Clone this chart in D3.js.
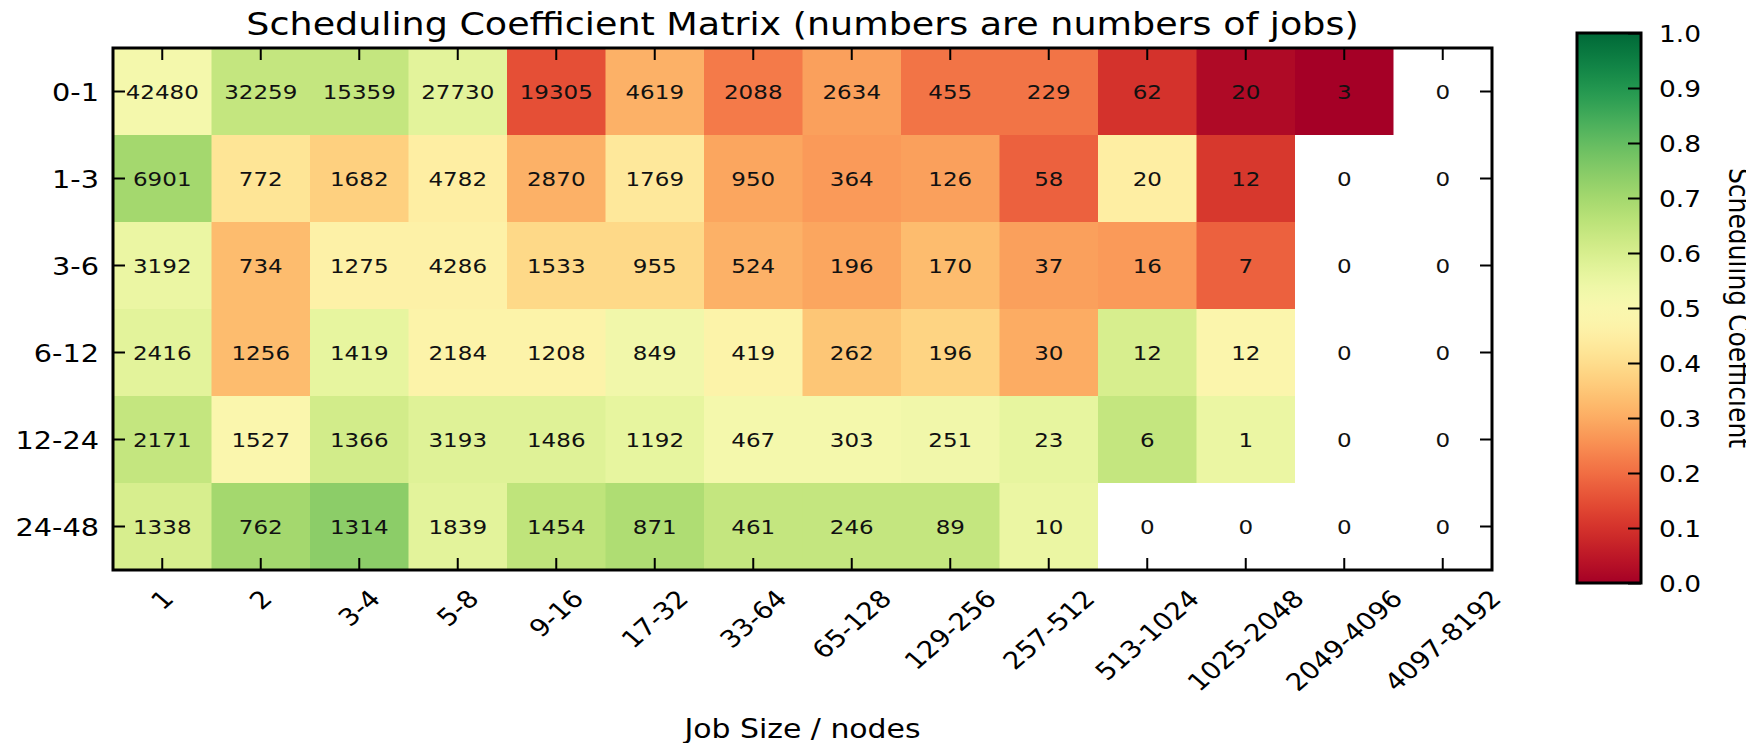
<!DOCTYPE html>
<html>
<head>
<meta charset="utf-8">
<script src="https://cdn.jsdelivr.net/npm/d3@7"></script>
<style>
  body { margin: 0; background: #fff; }
  svg { display: block; font-family: "DejaVu Sans", sans-serif; }
</style>
</head>
<body>
<svg id="chart" width="1758" height="743"></svg>
<script>
// Wait time bins (hours) and job size bins (nodes)
const rowLabels = ["0-1", "1-3", "3-6", "6-12", "12-24", "24-48"];
const colLabels = ["1", "2", "3-4", "5-8", "9-16", "17-32", "33-64", "65-128",
  "129-256", "257-512", "513-1024", "1025-2048", "2049-4096", "4097-8192"];

// numbers of jobs per cell
const jobCounts = [
  [42480, 32259, 15359, 27730, 19305, 4619, 2088, 2634, 455, 229, 62, 20, 3, 0],
  [6901, 772, 1682, 4782, 2870, 1769, 950, 364, 126, 58, 20, 12, 0, 0],
  [3192, 734, 1275, 4286, 1533, 955, 524, 196, 170, 37, 16, 7, 0, 0],
  [2416, 1256, 1419, 2184, 1208, 849, 419, 262, 196, 30, 12, 12, 0, 0],
  [2171, 1527, 1366, 3193, 1486, 1192, 467, 303, 251, 23, 6, 1, 0, 0],
  [1338, 762, 1314, 1839, 1454, 871, 461, 246, 89, 10, 0, 0, 0, 0]
];

// scheduling coefficient per cell (null = no jobs, left white)
const coefficients = [
  [0.52, 0.64, 0.64, 0.57, 0.15, 0.31, 0.22, 0.28, 0.21, 0.21, 0.10, 0.02, 0.00, null],
  [0.70, 0.42, 0.37, 0.45, 0.31, 0.43, 0.29, 0.27, 0.28, 0.18, 0.45, 0.11, null, null],
  [0.55, 0.33, 0.46, 0.46, 0.39, 0.39, 0.31, 0.29, 0.33, 0.28, 0.27, 0.18, null, null],
  [0.57, 0.33, 0.56, 0.47, 0.47, 0.53, 0.47, 0.35, 0.38, 0.30, 0.60, 0.48, null, null],
  [0.64, 0.49, 0.61, 0.58, 0.58, 0.56, 0.52, 0.52, 0.53, 0.56, 0.64, 0.55, null, null],
  [0.60, 0.70, 0.74, 0.57, 0.65, 0.68, 0.64, 0.64, 0.64, 0.55, null, null, null, null]
];

const colorbarTicks = [0, 0.1, 0.2, 0.3, 0.4, 0.5, 0.6, 0.7, 0.8, 0.9, 1.0];

const sx = 1.15; // text in the picture is a bit wide
const plot = { left: 113, right: 1492, top: 48, bottom: 570 };
const cbar = { left: 1577, right: 1641, top: 33, bottom: 583 };

const svg = d3.select("#chart");

const x = d3.scaleBand().domain(colLabels).range([plot.left, plot.right]);
const y = d3.scaleBand().domain(rowLabels).range([plot.top, plot.bottom]);
const color = d3.scaleSequential(d3.interpolateRdYlGn).domain([0, 1]);
const cbY = d3.scaleLinear().domain([0, 1]).range([cbar.bottom, cbar.top]);

function stretched(sel, px, py, extra) {
  return sel.attr("transform", `translate(${px},${py}) scale(${sx},1)` + (extra || ""));
}

// title
stretched(svg.append("text"), (plot.left + plot.right) / 2, 35)
  .attr("text-anchor", "middle")
  .attr("font-size", 31.7)
  .text("Scheduling Coefficient Matrix (numbers are numbers of jobs)");

// cells
const cells = [];
jobCounts.forEach((row, i) => row.forEach((n, j) => {
  cells.push({ r: rowLabels[i], c: colLabels[j], n: n, v: coefficients[i][j] });
}));

svg.append("g").selectAll("rect")
  .data(cells)
  .join("rect")
  .attr("x", d => x(d.c))
  .attr("y", d => y(d.r))
  .attr("width", x.bandwidth() + 0.5)
  .attr("height", y.bandwidth() + 0.5)
  .attr("fill", d => d.v === null ? "#ffffff" : color(d.v));

svg.append("g").selectAll("text")
  .data(cells)
  .join("text")
  .each(function(d) {
    stretched(d3.select(this), x(d.c) + x.bandwidth() / 2, y(d.r) + y.bandwidth() / 2 + 7.3);
  })
  .attr("text-anchor", "middle")
  .attr("font-size", 20)
  .attr("fill", "#111")
  .text(d => d.n);

// inward ticks on all four sides
function ticks(axis, tx, ty) {
  const g = svg.append("g")
    .attr("transform", `translate(${tx},${ty})`)
    .call(axis.tickSize(-12).tickFormat(""));
  g.select(".domain").remove();
  g.selectAll(".tick line").attr("stroke", "#000").attr("stroke-width", 2);
}
ticks(d3.axisLeft(y), plot.left, 0);
ticks(d3.axisRight(y), plot.right, 0);
ticks(d3.axisTop(x), 0, plot.top);
ticks(d3.axisBottom(x), 0, plot.bottom);

svg.append("rect")
  .attr("x", plot.left).attr("y", plot.top)
  .attr("width", plot.right - plot.left).attr("height", plot.bottom - plot.top)
  .attr("fill", "none").attr("stroke", "#000").attr("stroke-width", 3);

// row labels
svg.append("g").selectAll("text")
  .data(rowLabels)
  .join("text")
  .each(function(d) { stretched(d3.select(this), 99, y(d) + y.bandwidth() / 2 + 9); })
  .attr("text-anchor", "end")
  .attr("font-size", 25)
  .text(d => d);

// column labels, rotated 45 degrees, bbox centred on the tick
const xl = svg.append("g").selectAll("text")
  .data(colLabels)
  .join("text")
  .attr("text-anchor", "middle")
  .attr("dominant-baseline", "central")
  .attr("font-size", 24)
  .text(d => d);
xl.each(function(d) {
  const w = this.getComputedTextLength();
  const h = 24 * 0.73;
  const cy = 588 + (w + h) / (2 * Math.SQRT2);
  stretched(d3.select(this), x(d) + x.bandwidth() / 2, cy, " rotate(-45)");
});

stretched(svg.append("text"), (plot.left + plot.right) / 2, 738)
  .attr("text-anchor", "middle")
  .attr("font-size", 26)
  .text("Job Size / nodes");

// colorbar
const defs = svg.append("defs");
const grad = defs.append("linearGradient")
  .attr("id", "cb").attr("x1", 0).attr("y1", 1).attr("x2", 0).attr("y2", 0);
grad.selectAll("stop")
  .data(d3.range(0, 1.0001, 0.02))
  .join("stop")
  .attr("offset", d => d)
  .attr("stop-color", d => color(d));

// the colorbar label is cut off at its top edge in the original
defs.append("clipPath").attr("id", "cblabel")
  .append("rect").attr("x", 1700).attr("y", 0).attr("width", 46).attr("height", 743);

svg.append("rect")
  .attr("x", cbar.left).attr("y", cbar.top)
  .attr("width", cbar.right - cbar.left).attr("height", cbar.bottom - cbar.top)
  .attr("fill", "url(#cb)");

const cbAxis = svg.append("g")
  .attr("transform", `translate(${cbar.right},0)`)
  .call(d3.axisRight(cbY).tickValues(colorbarTicks).tickSize(-13).tickFormat(""));
cbAxis.select(".domain").remove();
cbAxis.selectAll(".tick line").attr("stroke", "#000").attr("stroke-width", 2);

svg.append("rect")
  .attr("x", cbar.left).attr("y", cbar.top)
  .attr("width", cbar.right - cbar.left).attr("height", cbar.bottom - cbar.top)
  .attr("fill", "none").attr("stroke", "#000").attr("stroke-width", 3);

svg.append("g").selectAll("text")
  .data(colorbarTicks)
  .join("text")
  .each(function(d) { stretched(d3.select(this), 1659, cbY(d) + 8.5); })
  .attr("font-size", 23)
  .text(d => d3.format(".1f")(d));

svg.append("g").attr("clip-path", "url(#cblabel)")
  .append("text")
  .call(s => stretched(s, 1729, (cbar.top + cbar.bottom) / 2, " rotate(90)"))
  .attr("text-anchor", "middle")
  .attr("font-size", 25)
  .text("Scheduling Coefficient");
</script>
</body>
</html>
